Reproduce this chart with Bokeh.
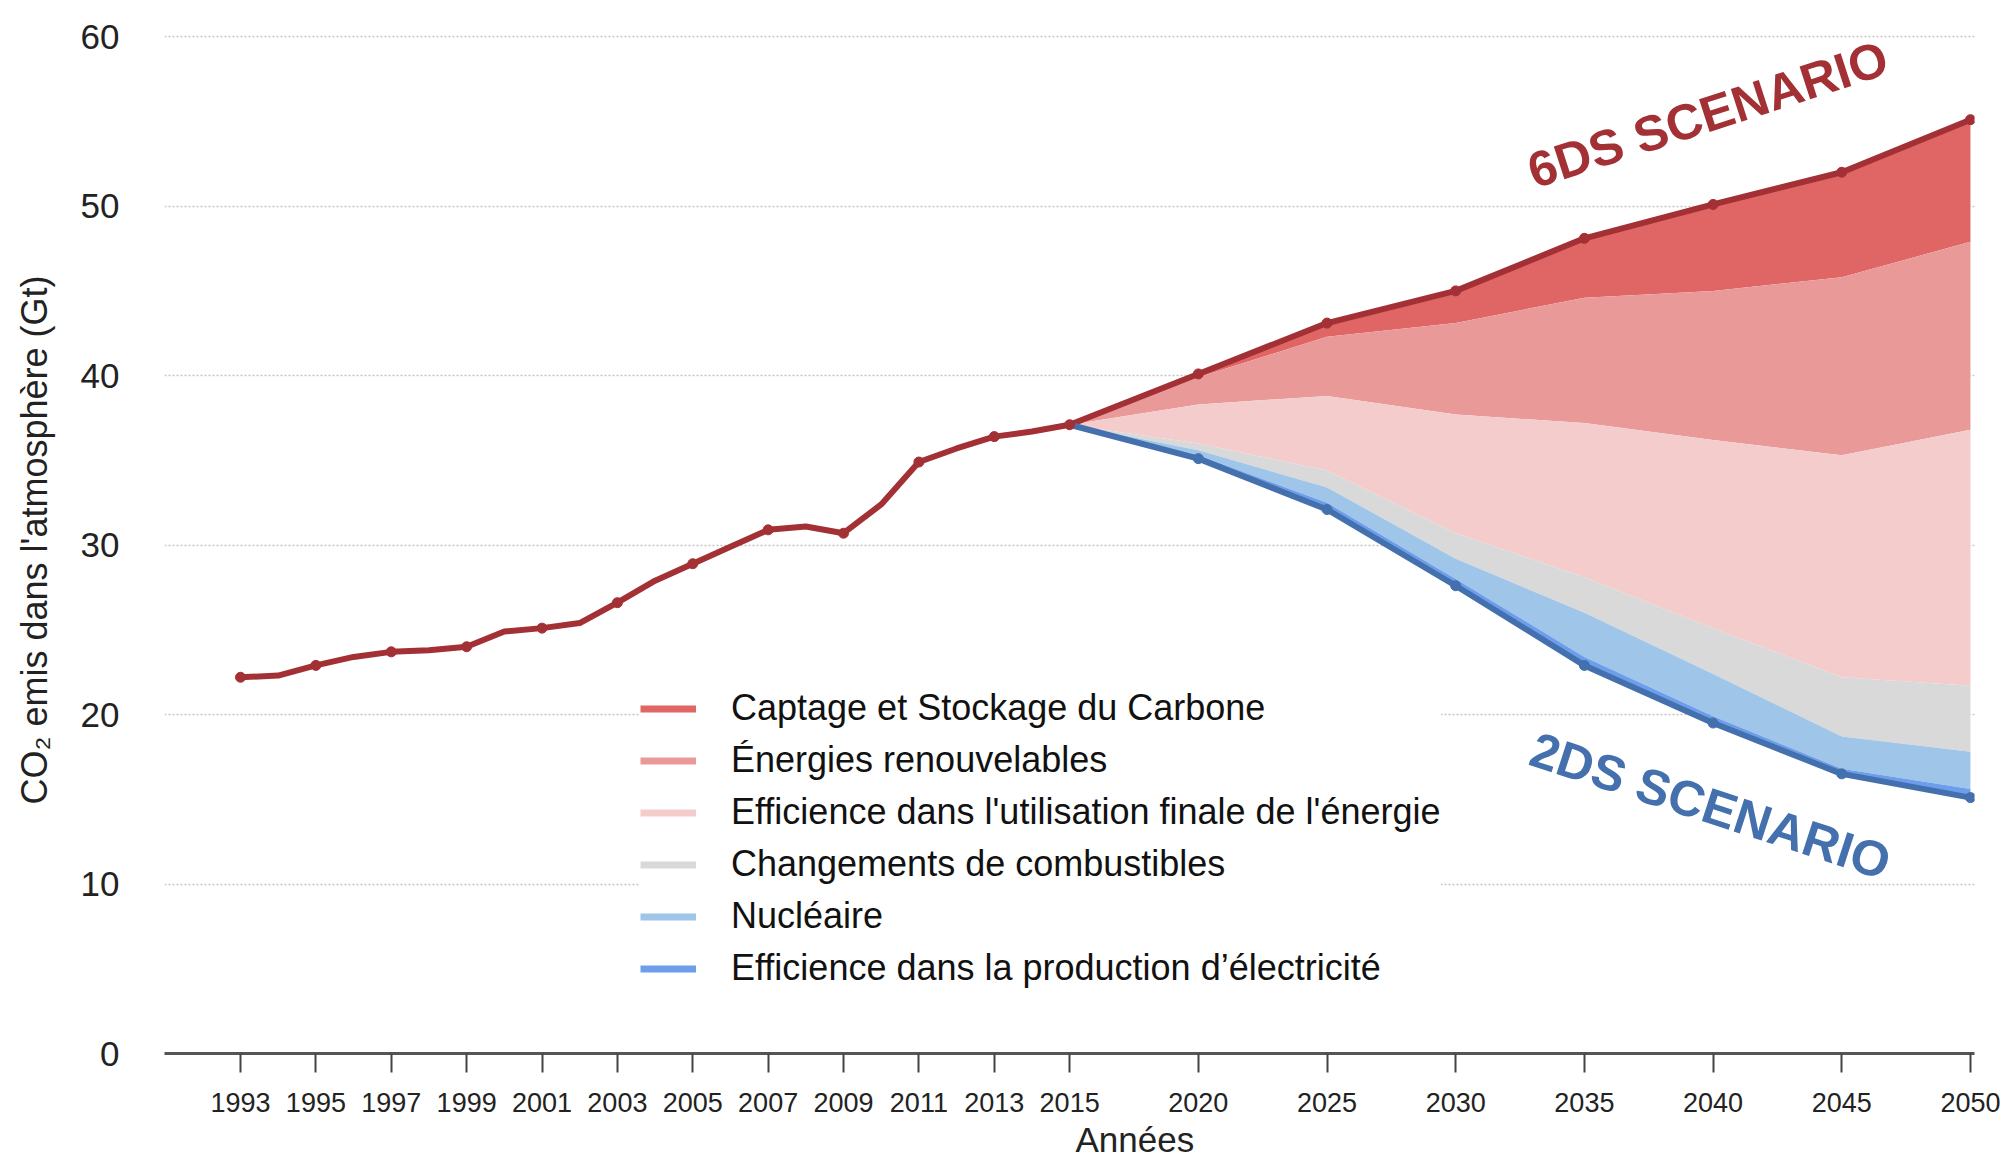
from bokeh.plotting import figure
from bokeh.models import FixedTicker, Legend, LegendItem, Title
from bokeh.core.properties import value
from bokeh.embed import file_html
from bokeh.resources import INLINE

# emissions historiques (Gt CO2)
annees_hist = list(range(1993, 2016))
co2_hist = [22.2, 22.3, 22.9, 23.4, 23.7, 23.8, 24.0, 24.9, 25.1, 25.4, 26.6, 27.9,
            28.9, 29.9, 30.9, 31.1, 30.7, 32.4, 34.9, 35.7, 36.4, 36.7, 37.1]

# projections
annees_proj = [2015, 2020, 2025, 2030, 2035, 2040, 2045, 2050]
scenario_6ds = [37.1, 40.1, 43.1, 45.0, 48.1, 50.1, 52.0, 55.1]
haut_renouv = [37.1, 39.9, 42.3, 43.1, 44.6, 45.0, 45.8, 47.9]
haut_eff_finale = [37.1, 38.3, 38.8, 37.7, 37.2, 36.2, 35.3, 36.8]
haut_combust = [37.1, 36.0, 34.4, 30.7, 28.1, 25.1, 22.2, 21.7]
haut_nucleaire = [37.1, 35.6, 33.4, 29.2, 26.0, 22.4, 18.7, 17.8]
haut_eff_prod = [37.1, 35.3, 32.5, 28.0, 23.4, 19.9, 16.8, 15.6]
scenario_2ds = [37.1, 35.1, 32.1, 27.6, 22.9, 19.5, 16.5, 15.1]

categories = ["Captage et Stockage du Carbone",
              "Énergies renouvelables",
              "Efficience dans l'utilisation finale de l'énergie",
              "Changements de combustibles",
              "Nucléaire",
              "Efficience dans la production d’électricité"]
couleurs = ["#e06666", "#ea9999", "#f4cccc", "#d9d9d9", "#9fc5e8", "#6d9eeb"]

ticks_annees = list(range(1993, 2016, 2)) + list(range(2020, 2051, 5))
ticks_y = [0, 10, 20, 30, 40, 50, 60]

ROUGE = "#a33034"
BLEU = "#4470ad"
POLICE = "Liberation Sans"
NAN = float("nan")


def xpos(annee):
    # echelle en deux morceaux : 1993-2015 plus large que 2015-2050
    if annee <= 2015:
        return (annee - 1993) * 41
    return 902 + (annee - 2015) * 28


xh = [xpos(a) for a in annees_hist]
xp = [xpos(a) for a in annees_proj]

p = figure(width=2009, height=1174, x_range=(-82.7, 1886.4), y_range=(0, 60.6),
           output_backend="svg", toolbar_location=None,
           min_border_left=164, min_border_right=35, min_border_top=26, min_border_bottom=121)
p.outline_line_color = None
p.background_fill_color = "white"

# bandes empilees, du haut vers le bas
bords = [scenario_6ds, haut_renouv, haut_eff_finale, haut_combust, haut_nucleaire, haut_eff_prod, scenario_2ds]
for i, c in enumerate(couleurs):
    p.varea(x=xp, y1=bords[i + 1], y2=bords[i], fill_color=c, fill_alpha=1)

# ligne historique + 6DS
p.line(xh + xp[1:], co2_hist + scenario_6ds[1:], line_color=ROUGE, line_width=6, line_join="round")
p.line(xp, scenario_2ds, line_color=BLEU, line_width=6, line_join="round")
p.scatter(xh[::2], co2_hist[::2], size=10, color=ROUGE)
p.scatter(xp[1:], scenario_6ds[1:], size=10, color=ROUGE)
p.scatter(xp[1:], scenario_2ds[1:], size=10, color=BLEU)

# etiquettes des scenarios
p.text(x=[xpos(2039.8)], y=[55.4], text=["6DS SCENARIO"], angle=18, angle_units="deg",
       text_font=value(POLICE), text_font_style="bold", text_font_size="50px",
       text_color=ROUGE, text_align="center", text_baseline="middle")
p.text(x=[xpos(2039.9)], y=[14.6], text=["2DS SCENARIO"], angle=-18, angle_units="deg",
       text_font=value(POLICE), text_font_style="bold", text_font_size="50px",
       text_color=BLEU, text_align="center", text_baseline="middle")

# legende avec des traits
items = []
for lab, c in zip(categories, couleurs):
    r = p.line([NAN], [NAN], line_color=c, line_width=7)
    items.append(LegendItem(label=lab, renderers=[r]))
leg = Legend(items=items, location=(476, 64), background_fill_color="white", background_fill_alpha=1,
             border_line_color=None, label_text_font=POLICE, label_text_font_size="36px",
             label_text_color="#111111", glyph_width=56, glyph_height=41, label_height=41,
             spacing=10, label_standoff=35, padding=20, margin=0)
p.add_layout(leg, "center")

# axes
p.xaxis.ticker = FixedTicker(ticks=[xpos(a) for a in ticks_annees])
p.xaxis.major_label_overrides = {xpos(a): str(a) for a in ticks_annees}
p.xaxis.minor_tick_line_color = None
p.xaxis.axis_line_width = 3
p.xaxis.axis_line_color = "#555555"
p.xaxis.major_tick_line_color = "#444444"
p.xaxis.major_tick_line_width = 2
p.xaxis.major_tick_out = 19
p.xaxis.major_tick_in = 0
p.xaxis.major_label_text_font = POLICE
p.xaxis.major_label_text_font_size = "27px"
p.xaxis.major_label_text_color = "#222222"
p.xaxis.major_label_standoff = 20

# titre de l'axe x, decale vers la droite comme sur l'original
p.add_layout(Title(text="Années", align="left", offset=911, standoff=6, vertical_align="bottom",
                   text_line_height=0.8, text_font=POLICE, text_font_size="35px",
                   text_font_style="normal", text_color="#222222"), "below")

p.yaxis.ticker = FixedTicker(ticks=ticks_y)
p.yaxis.axis_line_color = None
p.yaxis.major_tick_line_color = None
p.yaxis.minor_tick_line_color = None
p.yaxis.major_label_text_font = POLICE
p.yaxis.major_label_text_font_size = "35px"
p.yaxis.major_label_text_color = "#222222"
p.yaxis.major_label_standoff = 39
p.yaxis.axis_label = "CO₂ emis dans l'atmosphère (Gt)"
p.yaxis.axis_label_text_font = POLICE
p.yaxis.axis_label_text_font_size = "36px"
p.yaxis.axis_label_text_font_style = "normal"
p.yaxis.axis_label_text_color = "#222222"
p.yaxis.axis_label_standoff = 23

p.xgrid.grid_line_color = None
p.ygrid.grid_line_color = "#c4c4c4"
p.ygrid.grid_line_dash = "2 2"
p.ygrid.grid_line_width = 1.5

open("out.html", "w").write(file_html(p, INLINE))
